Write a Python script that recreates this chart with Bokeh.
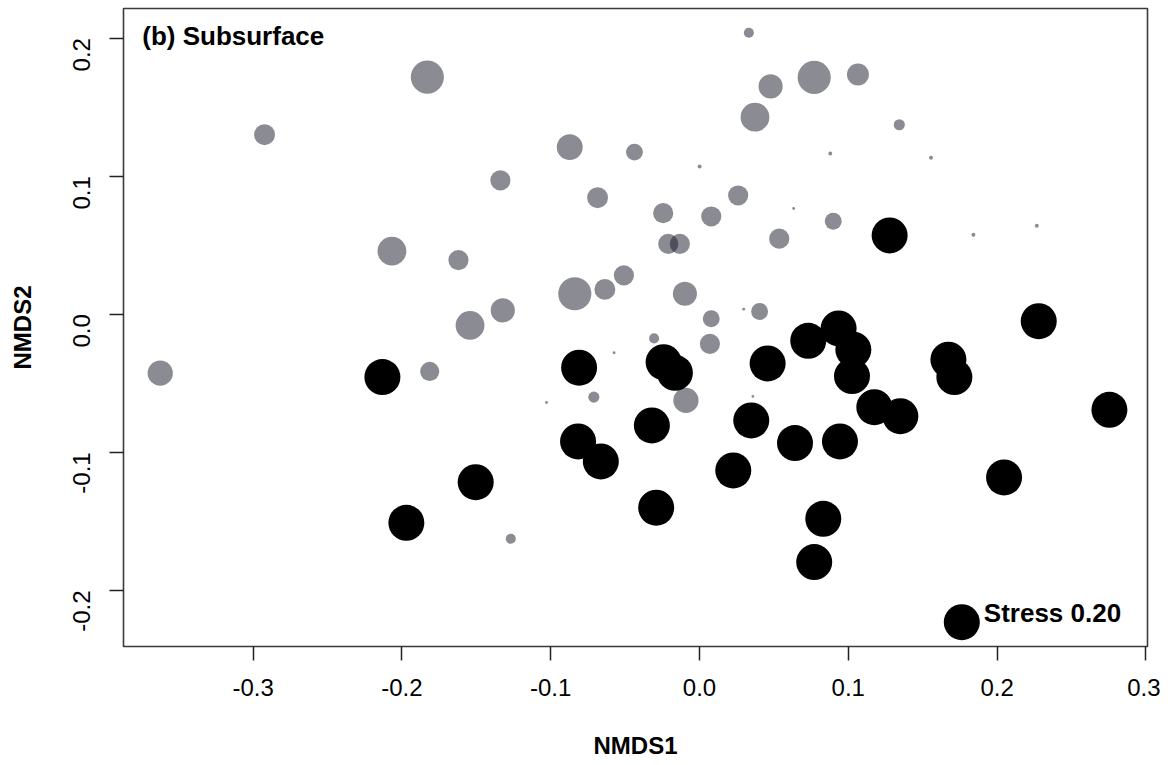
import math
from bokeh.plotting import figure
from bokeh.models import Range1d, Label, FixedTicker, ColumnDataSource
from bokeh.embed import file_html
from bokeh.resources import INLINE

# ---- data ----
# grey group (x = NMDS1, y = NMDS2, relative abundance -> symbol size)
grey_x = [-0.1829, -0.2923, -0.1338, -0.2067, -0.1620, -0.1322, -0.1542, 0.0332, 0.0771, 0.1065,
          0.0478, 0.0373, 0.1343, -0.0872, -0.0437, 0.0001, 0.0879, -0.0685, 0.0260, -0.0244,
          0.0079, 0.0633, 0.0899, 0.0536, -0.0210, -0.0132, -0.0838, -0.0636, -0.0508, -0.0098,
          0.0297, 0.0404, 0.0079, 0.1556, 0.1841, 0.2267, -0.3624, -0.1813, -0.1268, 0.0070,
          -0.0305, -0.0574, -0.0710, -0.1028, -0.0091, 0.0359]
grey_y = [0.1717, 0.1300, 0.0969, 0.0457, 0.0392, 0.0028, -0.0081, 0.2038, 0.1715, 0.1736,
          0.1650, 0.1427, 0.1372, 0.1210, 0.1174, 0.1070, 0.1164, 0.0844, 0.0860, 0.0732,
          0.0708, 0.0766, 0.0674, 0.0547, 0.0510, 0.0510, 0.0148, 0.0180, 0.0281, 0.0148,
          0.0037, 0.0020, -0.0033, 0.1133, 0.0576, 0.0641, -0.0427, -0.0414, -0.1626, -0.0214,
          -0.0175, -0.0279, -0.0600, -0.0639, -0.0624, -0.0595]
grey_abund = [0.92, 0.58, 0.56, 0.80, 0.56, 0.67, 0.80, 0.28, 0.92, 0.61,
              0.67, 0.80, 0.31, 0.72, 0.47, 0.11, 0.11, 0.58, 0.56, 0.56,
              0.56, 0.08, 0.47, 0.56, 0.56, 0.56, 0.92, 0.58, 0.56, 0.67,
              0.08, 0.47, 0.47, 0.11, 0.11, 0.11, 0.70, 0.53, 0.28, 0.56,
              0.28, 0.08, 0.31, 0.08, 0.70, 0.08]

# black group
black_x = [-0.2131, -0.1504, -0.1970, -0.0809, -0.0241, -0.0165, 0.0458, 0.0731, 0.0935, 0.1034,
           0.1025, 0.1175, 0.1350, -0.0320, 0.0348, 0.0642, 0.0944, -0.0816, -0.0663, 0.0227,
           -0.0291, 0.0832, 0.0771, 0.2280, 0.1673, 0.1713, 0.2755, 0.2047, 0.1763, 0.1278]
black_y = [-0.0455, -0.1216, -0.1510, -0.0387, -0.0347, -0.0424, -0.0356, -0.0192, -0.0103, -0.0257,
           -0.0448, -0.0673, -0.0738, -0.0805, -0.0769, -0.0933, -0.0921, -0.0921, -0.1066, -0.1131,
           -0.1401, -0.1481, -0.1795, -0.0050, -0.0329, -0.0455, -0.0692, -0.1182, -0.2230, 0.0571]
black_abund = [1.0] * len(black_x)

x_ticks = [-0.3, -0.2, -0.1, 0.0, 0.1, 0.2, 0.3]
y_ticks = [-0.2, -0.1, 0.0, 0.1, 0.2]
panel_title = "(b) Subsurface"
stress_text = "Stress 0.20"
stress_pos = (0.1911, -0.2167)
title_pos = (-0.3745, 0.2015)

FONT = "Liberation Sans"
MAX_SIZE = 36

p = figure(width=1160, height=764, output_backend="svg", toolbar_location=None,
           x_range=Range1d(-0.3871, 0.3011), y_range=Range1d(-0.2406, 0.2214),
           min_border_left=123, min_border_right=13, min_border_top=8, min_border_bottom=118)

p.xgrid.visible = False
p.ygrid.visible = False
p.outline_line_color = "#3a3a3a"
p.outline_line_width = 1.6
p.background_fill_color = "white"
p.border_fill_color = "white"

gsrc = ColumnDataSource(dict(x=grey_x, y=grey_y, s=[a * MAX_SIZE for a in grey_abund]))
bsrc = ColumnDataSource(dict(x=black_x, y=black_y, s=[a * MAX_SIZE for a in black_abund]))

p.scatter("x", "y", size="s", source=gsrc, fill_color="#121223", fill_alpha=0.49, line_color=None)
p.scatter("x", "y", size="s", source=bsrc, fill_color="black", line_color=None)

for ax, ticks, lab in ((p.xaxis[0], x_ticks, "NMDS1"), (p.yaxis[0], y_ticks, "NMDS2")):
    ax.ticker = FixedTicker(ticks=ticks)
    ax.major_label_overrides = {t: f"{t:.1f}" for t in ticks}
    ax.minor_tick_line_color = None
    ax.major_tick_in = 0
    ax.major_tick_out = 14
    ax.major_tick_line_color = "#222222"
    ax.major_tick_line_width = 1.5
    ax.axis_line_color = None
    ax.major_label_text_font = FONT
    ax.major_label_text_font_size = "24px"
    ax.major_label_text_color = "black"
    ax.axis_label = lab
    ax.axis_label_text_font = FONT
    ax.axis_label_text_font_size = "24px"
    ax.axis_label_text_font_style = "bold"
    ax.axis_label_text_color = "black"

p.xaxis[0].major_label_standoff = 18
p.xaxis[0].axis_label_standoff = 33
p.yaxis[0].major_label_orientation = math.pi / 2
p.yaxis[0].major_label_standoff = 28
p.yaxis[0].axis_label_standoff = 26

p.add_layout(Label(x=title_pos[0], y=title_pos[1], text=panel_title, text_font=FONT,
                   text_font_size="26px", text_font_style="bold", text_color="black",
                   text_baseline="middle"))
p.add_layout(Label(x=stress_pos[0], y=stress_pos[1], text=stress_text, text_font=FONT,
                   text_font_size="26px", text_font_style="bold", text_color="black",
                   text_baseline="middle"))

open("out.html", "w").write(file_html(p, INLINE))
